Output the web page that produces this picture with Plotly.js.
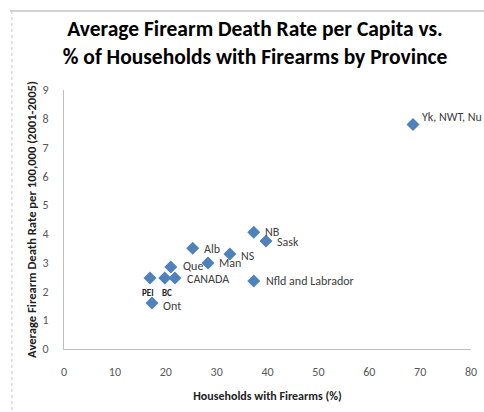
<!DOCTYPE html>
<html>
<head>
<meta charset="utf-8">
<script src="https://cdn.plot.ly/plotly-3.0.1.min.js"></script>
<style>
  html, body { margin: 0; padding: 0; background: #ffffff; }
  #chart { width: 484px; height: 412px; }
</style>
</head>
<body>
<div id="chart"></div>
<script>
// ---- Data ----
const provinces = ["Yk, NWT, Nu", "NB", "Sask", "NS", "Alb", "Man", "Que", "PEI", "BC", "CANADA", "Nfld and Labrador", "Ont"];
const householdsWithFirearms = [68.6, 37.3, 39.7, 32.6, 25.3, 28.3, 21.0, 16.9, 19.8, 21.8, 37.3, 17.3];
const firearmDeathRate = [7.8, 4.06, 3.75, 3.3, 3.5, 2.99, 2.85, 2.47, 2.47, 2.47, 2.36, 1.6];
const xTickValues = [0, 10, 20, 30, 40, 50, 60, 70, 80];
const yTickValues = [0, 1, 2, 3, 4, 5, 6, 7, 8, 9];

// ---- Label placement (style only) ----
const labelStyle = {
  "Yk, NWT, Nu":       {dx: 8,  dy: 8,   anchor: "left",   bold: false},
  "NB":                {dx: 10, dy: 0,   anchor: "left",   bold: false},
  "Sask":              {dx: 10, dy: -1,  anchor: "left",   bold: false},
  "NS":                {dx: 10, dy: -2,  anchor: "left",   bold: false},
  "Alb":               {dx: 10, dy: -1,  anchor: "left",   bold: false},
  "Man":               {dx: 10, dy: 0,   anchor: "left",   bold: false},
  "Que":               {dx: 11, dy: 1,   anchor: "left",   bold: false},
  "PEI":               {dx: -2, dy: -15, anchor: "center", bold: true},
  "BC":                {dx: 2,  dy: -15, anchor: "center", bold: true},
  "CANADA":            {dx: 11, dy: -1,  anchor: "left",   bold: false},
  "Nfld and Labrador": {dx: 11, dy: 0,   anchor: "left",   bold: false},
  "Ont":               {dx: 10, dy: -3,  anchor: "left",   bold: false}
};

const FONT = "Carlito, Lato, 'Open Sans', sans-serif";

const annotations = provinces.map((name, i) => {
  const s = labelStyle[name];
  return {
    x: householdsWithFirearms[i],
    y: firearmDeathRate[i],
    xref: "x", yref: "y",
    text: s.bold ? "<b>" + name + "</b>" : name,
    showarrow: false,
    xanchor: s.anchor,
    yanchor: "middle",
    xshift: s.dx,
    yshift: s.dy,
    borderpad: 0,
    font: s.bold ? {family: FONT, size: 9, color: "#222222"} : {family: FONT, size: 12, color: "#404040"}
  };
});

const trace = {
  type: "scatter",
  mode: "markers",
  x: householdsWithFirearms,
  y: firearmDeathRate,
  text: provinces,
  marker: {symbol: "diamond", size: 10, color: "#4f81bd", line: {width: 0}},
  hoverinfo: "text+x+y"
};

const layout = {
  width: 484,
  height: 412,
  margin: {l: 64, r: 13, t: 90, b: 63},
  paper_bgcolor: "#ffffff",
  plot_bgcolor: "#ffffff",
  showlegend: false,
  font: {family: FONT, color: "#595959"},
  title: {
    text: "<b>Average Firearm Death Rate per Capita vs.<br>% of Households with Firearms by Province</b>",
    font: {family: FONT, size: 21.5, color: "#000000"},
    x: 0.527, xanchor: "center",
    y: 0.912, yanchor: "middle"
  },
  xaxis: {
    range: [0, 80],
    tickvals: xTickValues,
    ticktext: xTickValues.map(String),
    showgrid: false,
    zeroline: false,
    showline: true,
    linecolor: "#bfbfbf",
    linewidth: 1,
    ticks: "",
    ticklabelstandoff: 12,
    tickfont: {family: FONT, size: 12, color: "#595959"},
    title: {text: "<b>Households with Firearms (%)</b>", font: {family: FONT, size: 12, color: "#222222"}, standoff: 13}
  },
  yaxis: {
    range: [0, 9],
    tickvals: yTickValues,
    ticktext: yTickValues.map(String),
    showgrid: false,
    zeroline: false,
    showline: true,
    linecolor: "#bfbfbf",
    linewidth: 1,
    ticks: "",
    ticklabelstandoff: 12,
    tickfont: {family: FONT, size: 12, color: "#595959"},
    title: {text: "<b>Average Firearm Death Rate per 100,000 (2001-2005)</b>", font: {family: FONT, size: 12.6, color: "#222222"}, standoff: 3}
  },
  shapes: [
    {type: "line", xref: "paper", yref: "paper", x0: -0.1327, x1: 1.06, y0: 1.305, y1: 1.305, line: {color: "#a6a6a6", width: 1}},
    {type: "line", xref: "paper", yref: "paper", x0: -0.128, x1: -0.128, y0: 1.305, y1: -0.3, line: {color: "#c8c8c8", width: 1, dash: "dot"}}
  ],
  annotations: annotations
};

Plotly.newPlot("chart", [trace], layout, {displayModeBar: false, staticPlot: true});
</script>
</body>
</html>
